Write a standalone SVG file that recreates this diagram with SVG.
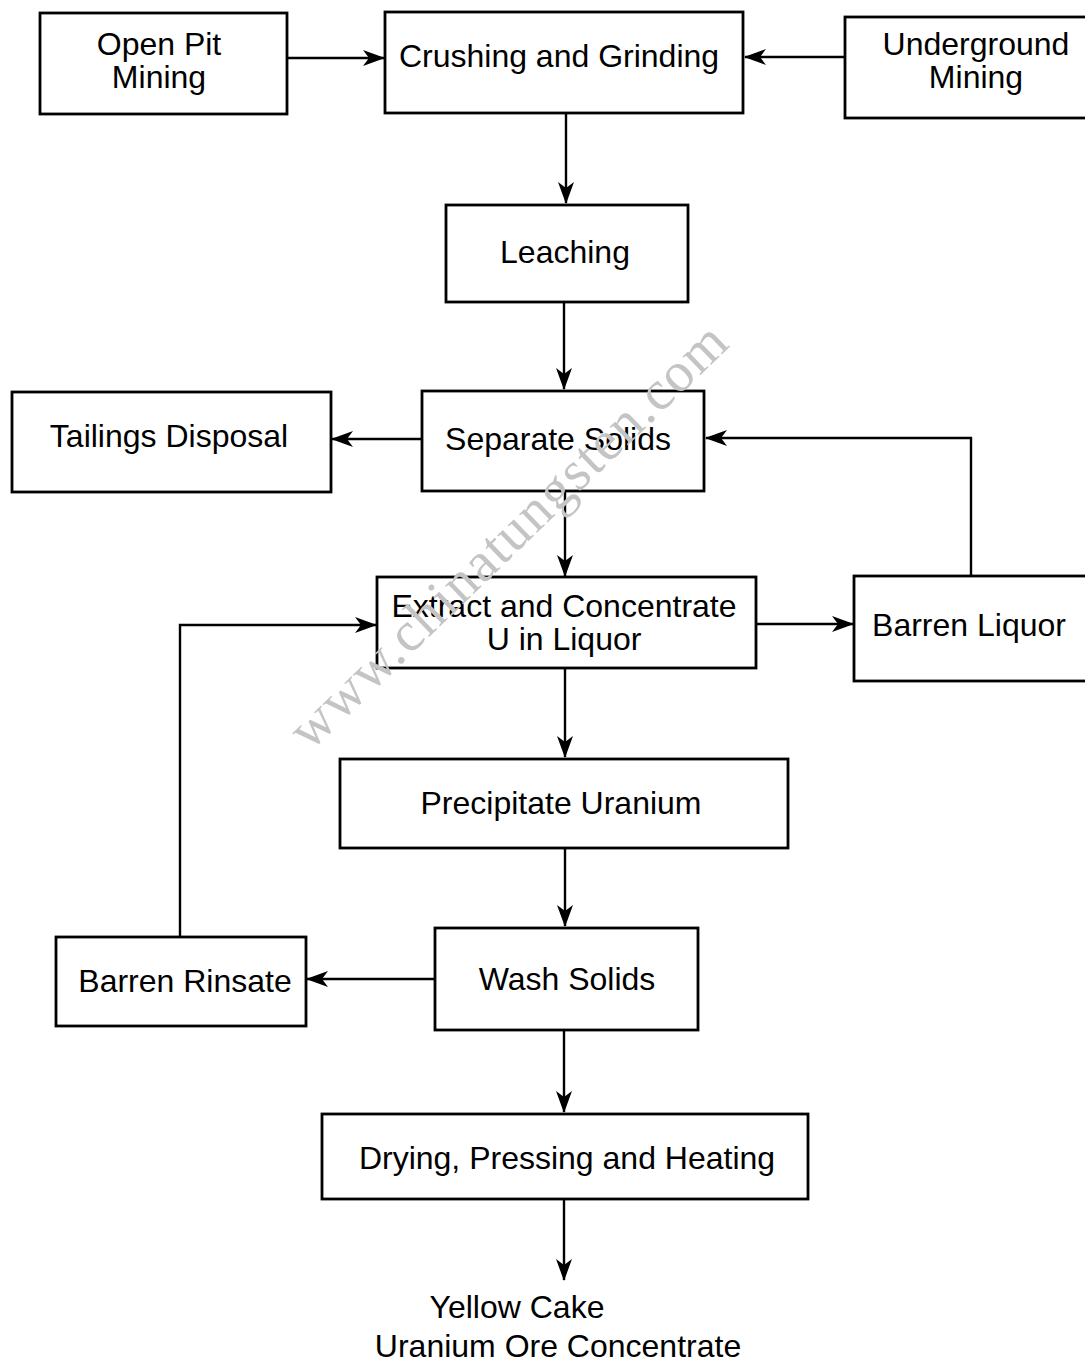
<svg xmlns="http://www.w3.org/2000/svg" width="1085" height="1364" viewBox="0 0 1085 1364">
<style>
.box{fill:#fff;stroke:#000;stroke-width:2.8}
.t{font-family:"Liberation Sans",Arial,sans-serif;font-size:32px;fill:#000;text-anchor:middle}
.c{fill:none;stroke:#000;stroke-width:2.4}
.wm{font-family:"Liberation Serif","Times New Roman",serif;font-size:56px;fill:#c4c4c4}
</style>
<defs>
<marker id="ah" markerUnits="userSpaceOnUse" markerWidth="22" markerHeight="16" refX="21" refY="8" orient="auto">
<path d="M0,0 L22,8 L0,16 L6,8 z" fill="#000"/>
</marker>
</defs>
<rect width="1085" height="1364" fill="#fff"/>
<g id="connectors">
<line class="c" x1="287" y1="58" x2="384" y2="58" marker-end="url(#ah)"/>
<line class="c" x1="845" y1="57" x2="745" y2="57" marker-end="url(#ah)"/>
<line class="c" x1="566" y1="113" x2="566" y2="203" marker-end="url(#ah)"/>
<line class="c" x1="564" y1="302" x2="564" y2="389" marker-end="url(#ah)"/>
<line class="c" x1="422" y1="439" x2="332" y2="439" marker-end="url(#ah)"/>
<polyline class="c" points="971,575 971,438 706,438" marker-end="url(#ah)"/>
<line class="c" x1="565" y1="491" x2="565" y2="576" marker-end="url(#ah)"/>
<line class="c" x1="756" y1="624" x2="853" y2="624" marker-end="url(#ah)"/>
<polyline class="c" points="180,937 180,625 376,625" marker-end="url(#ah)"/>
<line class="c" x1="565" y1="668" x2="565" y2="757" marker-end="url(#ah)"/>
<line class="c" x1="565" y1="848" x2="565" y2="926" marker-end="url(#ah)"/>
<line class="c" x1="435" y1="979" x2="307" y2="979" marker-end="url(#ah)"/>
<line class="c" x1="564" y1="1030" x2="564" y2="1112" marker-end="url(#ah)"/>
<line class="c" x1="564" y1="1199" x2="564" y2="1280" marker-end="url(#ah)"/>
</g>
<g id="open-pit"><rect class="box" x="40" y="13" width="247" height="101"/><text class="t" x="159" y="55">Open Pit<tspan x="159" dy="33">Mining</tspan></text></g>
<g id="crushing"><rect class="box" x="385" y="12" width="358" height="101"/><text class="t" x="559" y="67">Crushing and Grinding</text></g>
<g id="underground"><rect class="box" x="845" y="17" width="245" height="101"/><text class="t" x="976" y="55">Underground<tspan x="976" dy="33">Mining</tspan></text></g>
<g id="leaching"><rect class="box" x="446" y="205" width="242" height="97"/><text class="t" x="565" y="263">Leaching</text></g>
<g id="tailings"><rect class="box" x="12" y="392" width="319" height="100"/><text class="t" x="169" y="447">Tailings Disposal</text></g>
<g id="separate"><rect class="box" x="422" y="391" width="282" height="100"/><text class="t" x="558" y="450">Separate Solids</text></g>
<g id="extract"><rect class="box" x="377" y="577" width="379" height="91"/><text class="t" x="564" y="617">Extract and Concentrate<tspan x="564" dy="33">U in Liquor</tspan></text></g>
<g id="barren-liquor"><rect class="box" x="854" y="576" width="236" height="105"/><text class="t" x="969" y="636">Barren Liquor</text></g>
<g id="precipitate"><rect class="box" x="340" y="759" width="448" height="89"/><text class="t" x="561" y="814">Precipitate Uranium</text></g>
<g id="barren-rinsate"><rect class="box" x="56" y="937" width="250" height="89"/><text class="t" x="185" y="992">Barren Rinsate</text></g>
<g id="wash"><rect class="box" x="435" y="928" width="263" height="102"/><text class="t" x="567" y="990">Wash Solids</text></g>
<g id="drying"><rect class="box" x="322" y="1114" width="486" height="85"/><text class="t" x="567" y="1169">Drying, Pressing and Heating</text></g>
<g id="yellow-cake"><text class="t" x="517" y="1318">Yellow Cake<tspan x="558" dy="39">Uranium Ore Concentrate</tspan></text></g>
<text class="wm" x="0" y="0" transform="translate(310,752) rotate(-44)" textLength="585" lengthAdjust="spacing">www.chinatungsten.com</text>
</svg>
